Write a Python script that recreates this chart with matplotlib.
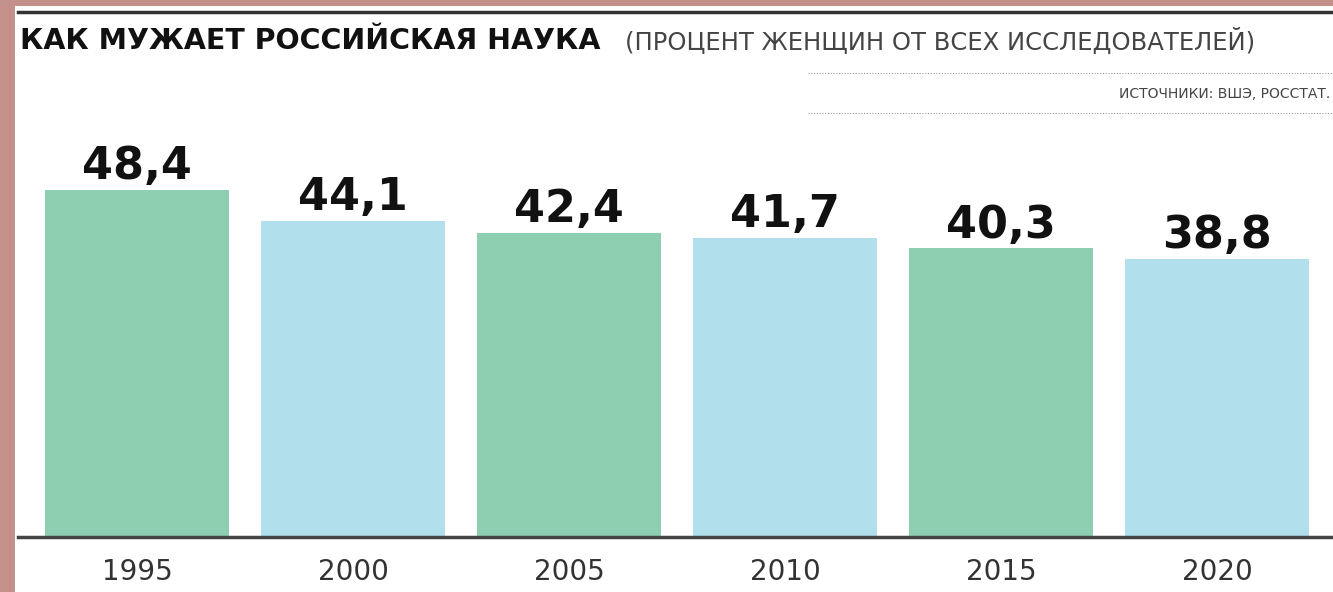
import matplotlib.pyplot as plt
from matplotlib.patches import Rectangle
from matplotlib.lines import Line2D

years = ['1995', '2000', '2005', '2010', '2015', '2020']
share = [48.4, 44.1, 42.4, 41.7, 40.3, 38.8]
labels = ['48,4', '44,1', '42,4', '41,7', '40,3', '38,8']
colors = ['#8ecfb2', '#b1e0ec', '#8ecfb2', '#b1e0ec', '#8ecfb2', '#b1e0ec']

W, H = 1333, 592
fig = plt.figure(figsize=(W / 100, H / 100), dpi=100)
fig.patch.set_facecolor('#c4908a')

# white panel
fig.patches.append(Rectangle((15 / W, 0), 1, 1 - 6 / H, transform=fig.transFigure,
                             facecolor='white', edgecolor='none', zorder=-5))
# top rule
fig.add_artist(Line2D([18 / W, 1], [1 - 12 / H] * 2, transform=fig.transFigure,
                      color='#333333', lw=2.5))
# dotted lines around source
for yp in (73, 113):
    fig.add_artist(Line2D([808 / W, 1], [1 - yp / H] * 2, transform=fig.transFigure,
                          color='#999999', lw=0.8, ls=(0, (1, 1.5))))

fig.text(20 / W, 1 - 41 / H, 'КАК МУЖАЕТ РОССИЙСКАЯ НАУКА', fontsize=20.5,
         fontweight='bold', color='#111111', va='center', ha='left')
fig.text(625 / W, 1 - 41 / H, '(ПРОЦЕНТ ЖЕНЩИН ОТ ВСЕХ ИССЛЕДОВАТЕЛЕЙ)', fontsize=17.5,
         color='#444444', va='center', ha='left')
fig.text(1330 / W, 1 - 94 / H, 'ИСТОЧНИКИ: ВШЭ, РОССТАТ.', fontsize=10,
         color='#444444', va='center', ha='right')

# axes: x=i -> pixel 137 + 216 i, y=0 at pixel 537
ax_left, ax_right = 18, 1333
ax_bottom, ax_top = 537, 120
ax = fig.add_axes([ax_left / W, 1 - ax_bottom / H, (ax_right - ax_left) / W,
                   (ax_bottom - ax_top) / H])
ax.set_xlim((ax_left - 137) / 216, (ax_right - 137) / 216)
ax.set_ylim(0, (ax_bottom - ax_top) / 7.165)
ax.patch.set_alpha(0)

x = list(range(len(years)))
ax.bar(x, share, width=184 / 216, color=colors, zorder=2)
for xi, v, lab in zip(x, share, labels):
    ax.text(xi, v + 1.5, lab, ha='center', va='baseline', fontsize=32,
            fontweight='bold', color='#111111')

for s in ['top', 'right', 'left']:
    ax.spines[s].set_visible(False)
ax.spines['bottom'].set_color('#444444')
ax.spines['bottom'].set_linewidth(2.5)
ax.spines['bottom'].set_zorder(3)
ax.set_yticks([])
ax.set_xticks(x)
ax.set_xticklabels(years, fontsize=20, color='#333333')
ax.tick_params(axis='x', length=0, pad=15)

fig.savefig('out.png', dpi=100)
